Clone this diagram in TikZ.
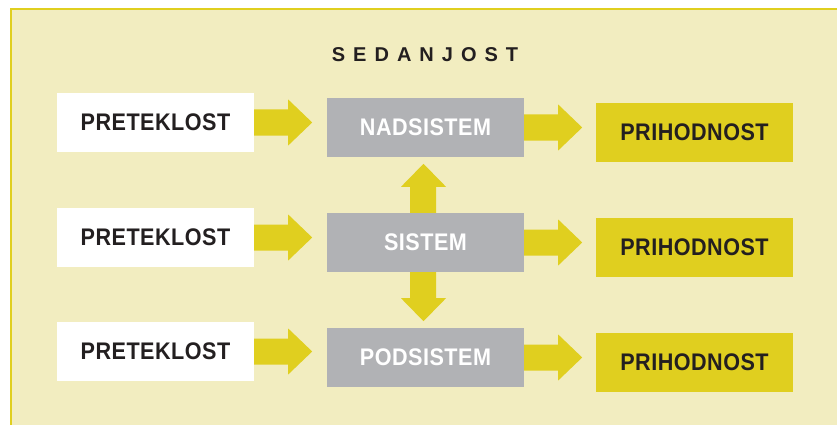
\documentclass[tikz,border=0pt]{standalone}
\usepackage{fontspec}
\setmainfont{Liberation Sans}
\newfontfamily\titlefont[LetterSpace=40]{Liberation Sans}
\newfontfamily\boxfont[FakeStretch=0.9,LetterSpace=2]{Liberation Sans}
\usetikzlibrary{calc}
\definecolor{bgyel}{RGB}{242,237,192}
\definecolor{ayel}{RGB}{224,207,31}
\definecolor{agray}{RGB}{177,178,181}
\definecolor{ink}{RGB}{35,31,32}
\tikzset{
  box/.style={minimum width=197pt, minimum height=59pt, inner sep=0pt, font=\boxfont\fontsize{24}{24}\selectfont\bfseries},
  pastbox/.style={box, fill=white, text=ink},
  sysbox/.style={box, fill=agray, text=white},
  futbox/.style={box, fill=ayel, text=ink},
  fatarrow/.style={fill=ayel}
}
\newcommand\harrow[1]{%
  \fill[fatarrow] ($(#1)+(0,13)$) -- ($(#1)+(34,13)$) -- ($(#1)+(34,23)$) -- ($(#1)+(58,0)$) -- ($(#1)+(34,-23)$) -- ($(#1)+(34,-13)$) -- ($(#1)+(0,-13)$) -- cycle;}
\newcommand\varrow[2]{% #1 start, #2 sign (+1 down, -1 up)
  \fill[fatarrow] ($(#1)+(-15.5,0)$) -- ($(#1)+(-15.5,#2*26)$) -- ($(#1)+(-24.5,#2*26)$) -- ($(#1)+(-2,#2*49)$) -- ($(#1)+(20.5,#2*26)$) -- ($(#1)+(10.5,#2*26)$) -- ($(#1)+(10.5,0)$) -- cycle;}
\begin{document}
\begin{tikzpicture}[x=1pt,y=-1pt]
\useasboundingbox (0,0) rectangle (837,425);
\fill[white] (0,0) rectangle (837,425);
\fill[bgyel] (11,9) rectangle (837,425);
\draw[ayel, line width=2.5pt] (11,425) -- (11,9) -- (837,9);
\node[font=\titlefont\fontsize{20}{20}\selectfont\bfseries, text=ink] (title) at (425,55) {SEDANJOST};
\node[pastbox] (p1) at (155.5,122.5) {PRETEKLOST};
\node[pastbox] (p2) at (155.5,237.5) {PRETEKLOST};
\node[pastbox] (p3) at (155.5,351.5) {PRETEKLOST};
\node[sysbox] (s1) at (425.5,127.5) {NADSISTEM};
\node[sysbox] (s2) at (425.5,242.5) {SISTEM};
\node[sysbox] (s3) at (425.5,357.5) {PODSISTEM};
\node[futbox] (f1) at (694.5,132.5) {PRIHODNOST};
\node[futbox] (f2) at (694.5,247.5) {PRIHODNOST};
\node[futbox] (f3) at (694.5,362.5) {PRIHODNOST};
\harrow{p1.east}
\harrow{p2.east}
\harrow{p3.east}
\harrow{s1.east}
\harrow{s2.east}
\harrow{s3.east}
\varrow{s2.north}{-1}
\varrow{s2.south}{1}
\end{tikzpicture}
\end{document}
